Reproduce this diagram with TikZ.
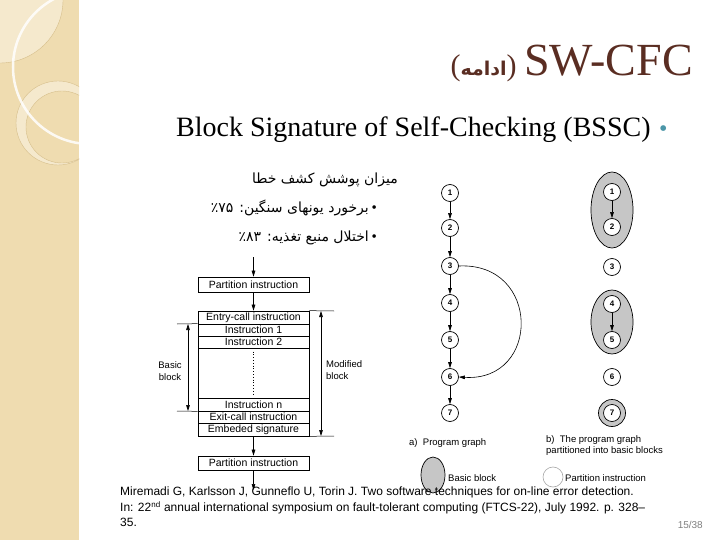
\documentclass[tikz,border=0pt]{standalone}
\usepackage{fontspec}
\setmainfont{Liberation Serif}
\newfontfamily\sans{Liberation Sans}
\newfontfamily\fa[Script=Arabic]{DejaVu Sans}
\TeXXeTstate=1
\usetikzlibrary{arrows.meta,shapes.geometric}
\definecolor{strip}{HTML}{EFDCB0}
\definecolor{striplight}{HTML}{F5E9CD}
\definecolor{stripline}{HTML}{D6BE8A}
\definecolor{titlecol}{HTML}{5A2D22}
\definecolor{bulletcol}{HTML}{4B96A8}
\definecolor{blockgray}{HTML}{C6C6C6}
\begin{document}
\begin{tikzpicture}[x=1pt,y=-1pt,
  arr/.style={-{Triangle[length=6pt,width=3.6pt]}, line width=0.6pt},
  dimline/.style={{Triangle[length=6pt,width=3.6pt]}-{Triangle[length=6pt,width=3.6pt]}, line width=0.6pt},
  row/.style={draw, line width=0.7pt, minimum width=111pt, inner sep=0pt, font=\sans\fontsize{10.5}{11}\selectfont},
  gn/.style={circle, draw, line width=0.7pt, fill=white, minimum size=17pt, inner sep=0pt, font=\sans\bfseries\fontsize{8}{8}\selectfont},
  lbl/.style={font=\sans\fontsize{9.5}{11.5}\selectfont, inner sep=0pt, align=left},
  blk/.style={ellipse, draw, line width=0.7pt, fill=blockgray, inner sep=0pt},
  fatext/.style={font=\fa\fontsize{14}{14}\selectfont, inner sep=0pt, anchor=base east},
  fabul/.style={font=\fontsize{15}{15}\selectfont, inner sep=0pt, anchor=base east},
]
\useasboundingbox (0,0) rectangle (720,540);
\fill[white] (0,0) rectangle (720,540);
% decorative strip
\begin{scope}
\clip (0,0) rectangle (79,540);
\fill[strip] (0,0) rectangle (79,540);
\fill[striplight] (0,0) circle (63);
\draw[stripline, line width=0.4pt] (0,0) circle (63);
\fill[striplight, even odd rule] (58,123) circle (42) (62,127) circle (36);
\draw[stripline, line width=0.4pt] (58,123) circle (42);
\draw[stripline, line width=0.4pt] (62,127) circle (36);
\draw[white, opacity=0.85, line width=2.5pt] (90,67) circle (77);
\end{scope}
% title
\node[anchor=base east, font=\fontsize{46}{46}\selectfont, text=titlecol, inner sep=0pt] (t1) at (693,76) {SW-CFC};
\node[anchor=base east, text=titlecol, inner sep=0pt] (t2) at ([xshift=-7pt]t1.base west) {{\fontsize{30}{30}\selectfont(}{\fa\bfseries\fontsize{19}{19}\selectfont\beginR ادامه\endR}{\fontsize{30}{30}\selectfont)}};
% subtitle
\node[anchor=base west, font=\fontsize{28}{28}\selectfont, inner sep=0pt] (sub) at (176,137) {Block Signature of Self-Checking (BSSC)};
\node[anchor=base west, text=bulletcol, font=\fontsize{24}{24}\selectfont, inner sep=0pt] (sb) at ([xshift=8pt]sub.base east) {•};
% persian
\node[fatext] (p1) at (398,184) {\beginR میزان پوشش کشف خطا\endR};
\node[fabul] (b2) at (377,213) {•};
\node[fatext] (p2) at (369,213) {\beginR برخورد یونهای سنگین: ٪۷۵\endR};
\node[fabul] (b3) at (377,241) {•};
\node[fatext] (p3) at (369,241) {\beginR اختلال منبع تغذیه: ٪۸۳\endR};
% block diagram
\node[row, minimum height=15pt] (pa) at (253.5,284.5) {Partition instruction};
\node[row, minimum height=13pt] (entry) at (253.5,317.5) {Entry-call instruction};
\node[row, minimum height=12pt] (i1) at (253.5,330) {Instruction 1};
\node[row, minimum height=12pt] (i2) at (253.5,342) {Instruction 2};
\node[row, minimum height=50pt] (dots) at (253.5,373) {};
\node[row, minimum height=13pt] (in) at (253.5,404.5) {Instruction n};
\node[row, minimum height=12pt] (exit) at (253.5,417) {Exit-call instruction};
\node[row, minimum height=13pt] (emb) at (253.5,429.5) {Embeded signature};
\node[row, minimum height=14pt] (pb) at (253.5,463) {Partition instruction};
\coordinate (top) at (253.5,257);
\coordinate (bot) at (253.5,490);
\draw[arr] (top) -- (pa);
\draw[arr] (pa) -- (entry);
\draw[arr] (emb) -- (pb);
\draw[arr] (pb) -- (bot);
\draw[line width=0.8pt, dotted] ([yshift=-4pt]dots.north) -- ([yshift=4pt]dots.south);
% basic block dimension
\coordinate (bbt) at (177,324);
\coordinate (bbb) at (177,411);
\draw[line width=0.5pt] (bbt) -- (i1.north west);
\draw[line width=0.5pt] (bbb) -- (in.south west);
\draw[dimline] (188,324) -- (188,411);
\node[lbl, align=center] (bbl) at (170,371) {Basic\\block};
% modified block dimension
\coordinate (mbt) at (334,311);
\coordinate (mbb) at (334,436);
\draw[line width=0.5pt] (entry.north east) -- (mbt);
\draw[line width=0.5pt] (emb.south east) -- (mbb);
\draw[dimline] (321,311) -- (321,436);
\node[lbl, anchor=west] (mbl) at (326,370) {Modified\\block};
% graph a
\foreach \i/\y in {1/193,2/228,3/266,4/303,5/340,6/377,7/413}
  \node[gn] (a\i) at (450,\y) {\i};
\foreach \i/\j in {1/2,2/3,3/4,4/5,5/6,6/7}
  \draw[arr] (a\i) -- (a\j);
\draw[arr] (a3.east) .. controls (541,262) and (541,382) .. (a6.east);
% graph b
\node[blk, minimum width=42pt, minimum height=76pt] (e1) at (612,210) {};
\node[blk, minimum width=42pt, minimum height=64pt] (e2) at (612,322) {};
\node[circle, draw, fill=blockgray, line width=0.7pt, minimum size=27pt, inner sep=0pt] (r7) at (612,413) {};
\foreach \i/\y in {1/192,2/227,3/267,4/304,5/340,6/377,7/413}
  \node[gn] (b\i) at (612,\y) {\i};
\draw[arr] (b1) -- (b2);
\draw[arr] (b4) -- (b5);
% captions
\node[lbl, anchor=base west] (capa) at (409,445) {a)\ \ Program graph};
\node[lbl, anchor=north west] (capb) at (546,435) {b)\ \ The program graph\\partitioned into basic blocks};
\node[blk, minimum width=24pt, minimum height=36pt] (lege) at (433,475) {};
\node[lbl, anchor=west] (legel) at (448,478) {Basic block};
\node[circle, draw=gray!70, line width=0.6pt, minimum size=20pt, inner sep=0pt] (legc) at (553,477) {};
\node[lbl, anchor=west] (legcl) at (565,478) {Partition instruction};
% citation
\node[anchor=north west, align=left, font=\sans\fontsize{12}{15.5}\selectfont, inner sep=0pt] (cit) at (120,487) {Miremadi G, Karlsson J, Gunneflo U, Torin J. Two software techniques for on-line error detection.\\In: 22\textsuperscript{nd} annual international symposium on fault-tolerant computing (FTCS-22), July 1992. p. 328–\\35.};
\node[anchor=base east, text=gray, font=\sans\fontsize{10}{10}\selectfont, inner sep=0pt] (pg) at (703,528) {15/38};
\end{tikzpicture}
\end{document}
